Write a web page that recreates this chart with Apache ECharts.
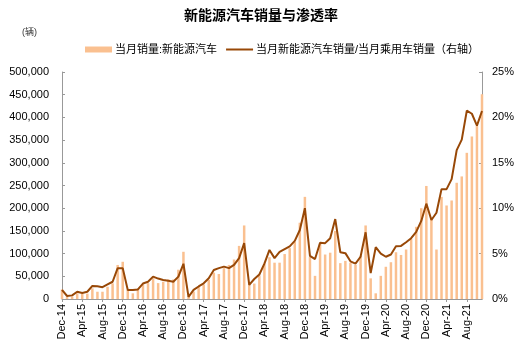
<!DOCTYPE html>
<html>
<head>
<meta charset="utf-8">
<script src="https://cdn.jsdelivr.net/npm/echarts@6/dist/echarts.min.js"></script>
<style>
    html, body { margin: 0; padding: 0; background: #fff; }
    #chart { width: 522px; height: 354px; }
</style>
</head>
<body>
<div id="chart"></div>
<script>
    var monthNames = ['Jan','Feb','Mar','Apr','May','Jun','Jul','Aug','Sep','Oct','Nov','Dec'];
    // Dec-14 .. Nov-21
    var categories = ['Dec-14'];
    for (var y = 15; y <= 21; y++) {
        for (var m = 0; m < 12; m++) {
            if (y === 21 && m === 11) break;
            categories.push(monthNames[m] + '-' + y);
        }
    }

    // 当月销量:新能源汽车 (辆)
    var sales = [
        21000,
        5000, 5500, 12500, 11000, 12000, 23500, 16000, 16000, 27000, 34500, 75000, 82000,
        20000, 12500, 23000, 32000, 35000, 46000, 35000, 38000, 43000, 43000, 64500, 104000,
        5700, 16500, 27000, 32000, 42000, 58000, 55000, 68000, 75000, 87000, 117000, 162000,
        32000, 34000, 52000, 78000, 92000, 80000, 80000, 99000, 112000, 126000, 168000, 225000,
        93000, 51000, 122000, 98000, 102000, 150000, 79000, 84000, 80000, 75000, 94000, 162000,
        45500, 12500, 51000, 71000, 81000, 103000, 97000, 109000, 132000, 159000, 200000, 249000,
        177000, 109000, 225000, 206000, 217000, 256000, 270000, 322000, 358000, 381000, 451000
    ];

    // 当月新能源汽车销量/当月乘用车销量 (%)
    var share = [
        1.0,
        0.33, 0.4, 0.8, 0.66, 0.8, 1.44, 1.4, 1.3, 1.6, 1.9, 3.4, 3.4,
        1.0, 1.0, 1.05, 1.7, 1.9, 2.46, 2.25, 2.1, 2.0, 1.9, 2.46, 3.88,
        0.24, 1.0, 1.38, 1.73, 2.28, 3.2, 3.4, 3.57, 3.4, 3.75, 4.5, 6.15,
        1.55, 2.2, 2.7, 3.9, 5.4, 4.5, 5.2, 5.5, 5.8, 6.4, 7.6, 10.0,
        4.75, 4.4, 6.2, 6.15, 6.7, 8.8, 5.15, 5.05, 4.15, 3.9, 4.65, 7.35,
        2.85, 5.7, 5.0, 4.65, 4.9, 5.8, 5.85, 6.25, 6.7, 7.4, 8.6, 10.5,
        8.7, 9.5, 12.1, 12.1, 13.2, 16.4, 17.55, 20.75, 20.4, 19.1, 20.7
    ];

    var font = '"Liberation Sans", "Noto Sans CJK SC", sans-serif';
    var axisGray = '#999';

    function thousands(v) {
        return String(v).replace(/\B(?=(\d{3})+(?!\d))/g, ',');
    }

    var chart = echarts.init(document.getElementById('chart'));
    chart.setOption({
        animation: false,
        textStyle: { fontFamily: font },
        title: {
            text: '新能源汽车销量与渗透率',
            left: 'center',
            top: 4,
            textStyle: { fontSize: 14, fontWeight: 'bold', color: '#000', fontFamily: font }
        },
        graphic: [{
            type: 'text',
            left: 22,
            top: 28,
            style: { text: '(辆)', fontSize: 9, fill: '#333', fontFamily: font }
        }],
        legend: {
            left: 80,
            top: 39,
            itemWidth: 27,
            itemHeight: 6,
            itemGap: 9,
            textStyle: { fontSize: 11, color: '#000', fontFamily: font, padding: [0, 0, 0, -2] },
            data: [
                { name: '当月销量:新能源汽车', icon: 'rect' },
                { name: '当月新能源汽车销量/当月乘用车销量（右轴）', icon: 'path://M0,0 L27,0 L27,2 L0,2 Z' }
            ]
        },
        grid: { left: 62, right: 40, top: 72, bottom: 55 },
        xAxis: {
            type: 'category',
            data: categories,
            boundaryGap: false,
            axisLine: { lineStyle: { color: axisGray } },
            axisTick: { interval: 3, length: 3, lineStyle: { color: axisGray } },
            axisLabel: { interval: 3, rotate: 90, fontSize: 11, color: '#000', margin: 5 }
        },
        yAxis: [{
            type: 'value',
            min: 0,
            max: 500000,
            interval: 50000,
            splitLine: { show: false },
            axisLine: { show: true, lineStyle: { color: axisGray } },
            axisTick: { show: true, inside: true, length: 3, lineStyle: { color: axisGray } },
            axisLabel: { fontSize: 11, color: '#000', margin: 13, formatter: thousands }
        }, {
            type: 'value',
            min: 0,
            max: 25,
            interval: 5,
            splitLine: { show: false },
            axisLine: { show: true, lineStyle: { color: axisGray } },
            axisTick: { show: true, inside: true, length: 3, lineStyle: { color: axisGray } },
            axisLabel: { fontSize: 11, color: '#000', margin: 10, formatter: '{value}%' }
        }],
        series: [{
            name: '当月销量:新能源汽车',
            type: 'bar',
            data: sales,
            barWidth: 2.5,
            itemStyle: { color: '#FAC090' }
        }, {
            name: '当月新能源汽车销量/当月乘用车销量（右轴）',
            type: 'line',
            yAxisIndex: 1,
            data: share,
            symbol: 'none',
            lineStyle: { color: '#984807', width: 2 },
            itemStyle: { color: '#984807' }
        }]
    });
</script>
</body>
</html>
